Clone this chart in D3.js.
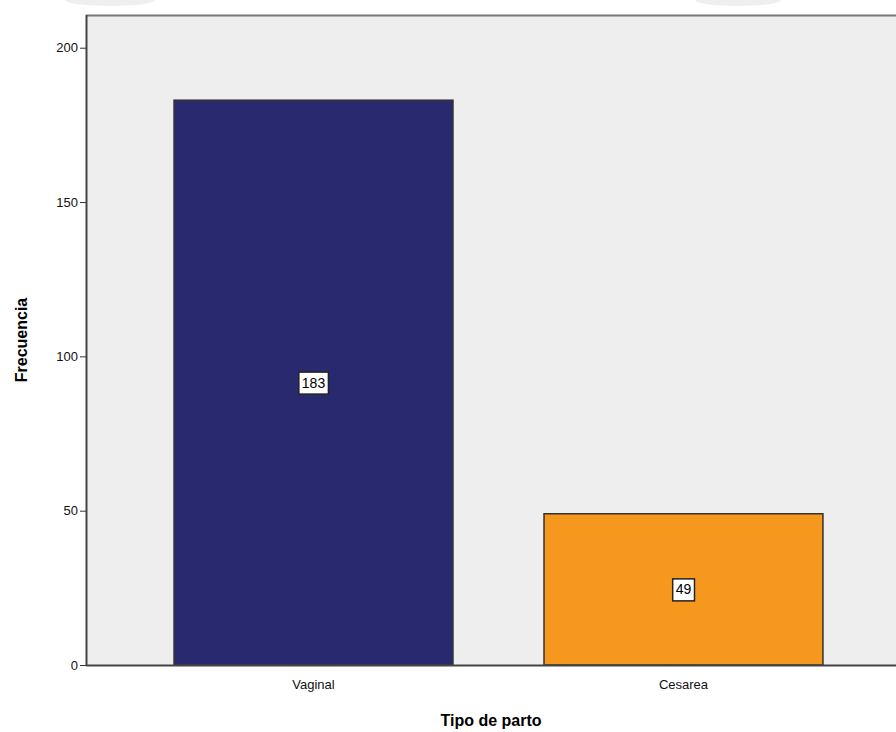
<!DOCTYPE html>
<html><head><meta charset="utf-8">
<script src="https://cdn.jsdelivr.net/npm/d3@7"></script>
<style>body{margin:0;background:#fff;}svg{display:block;}</style>
</head><body>
<svg id="c" width="896" height="732"></svg>
<script>
const categories = ["Vaginal", "Cesarea"];
const values = [183, 49];
const colors = ["#29296F", "#F7981E"];
const yTicks = [0, 50, 100, 150, 200];
const xTitle = "Tipo de parto";
const yTitle = "Frecuencia";

const svg = d3.select("#c");
const L = 86, R = 911, T = 15, B = 665;
const font = "Arial, 'Liberation Sans', sans-serif";

// faint decorations at top
svg.append("ellipse").attr("cx", 110).attr("cy", 0).attr("rx", 45).attr("ry", 6).attr("fill", "#efefef");
svg.append("ellipse").attr("cx", 738).attr("cy", 0).attr("rx", 43).attr("ry", 6).attr("fill", "#efefef");

const x = d3.scaleBand().domain(categories).range([L, R]).paddingInner(0.246).paddingOuter(0.238);
const y = d3.scaleLinear().domain([0, 210.6]).range([B, T]);

svg.append("rect").attr("x", L).attr("y", T).attr("width", R - L).attr("height", B - T).attr("fill", "#EEEEEE");
svg.append("line").attr("x1", L).attr("x2", 896).attr("y1", T + 0.5).attr("y2", T + 0.5).attr("stroke", "#777").attr("stroke-width", 2);

svg.selectAll("rect.bar").data(categories).enter().append("rect")
  .attr("class", "bar")
  .attr("x", d => x(d))
  .attr("y", (d, i) => y(values[i]))
  .attr("width", x.bandwidth())
  .attr("height", (d, i) => B - y(values[i]))
  .attr("fill", (d, i) => colors[i])
  .attr("stroke", "#333").attr("stroke-width", 1.5);

// value labels
categories.forEach((c, i) => {
  const cx = x(c) + x.bandwidth() / 2;
  const cy = (y(values[i]) + B) / 2;
  const g = svg.append("g");
  const t = g.append("text").attr("x", cx).attr("y", cy + 5).attr("text-anchor", "middle")
    .attr("font-family", font).attr("font-size", 14).attr("fill", "#000").text(values[i]);
  const bb = t.node().getBBox();
  g.insert("rect", "text").attr("x", bb.x - 3).attr("y", cy - 10.5).attr("width", bb.width + 6).attr("height", 22)
    .attr("fill", "#fff").attr("stroke", "#222").attr("stroke-width", 1.5);
});

// axes
const yAxis = svg.append("g").attr("transform", `translate(${L},0)`)
  .call(d3.axisLeft(y).tickValues(yTicks).tickSize(6).tickPadding(2));
const xAxis = svg.append("g").attr("transform", `translate(0,${B})`)
  .call(d3.axisBottom(x).tickSize(0).tickPadding(15));
[yAxis, xAxis].forEach(a => {
  a.selectAll("text").attr("font-family", font).attr("font-size", 13).attr("fill", "#111");
  a.selectAll("line").attr("stroke", "#333");
  a.select(".domain").attr("stroke", "#444").attr("stroke-width", 2);
});
xAxis.select(".domain").attr("d", `M${L},0.5H${R}`);
yAxis.select(".domain").attr("d", `M0.5,${T}V${B}`);

svg.append("text").attr("x", 491).attr("y", 726).attr("text-anchor", "middle")
  .attr("font-family", font).attr("font-size", 16).attr("font-weight", "bold").attr("fill", "#000").text(xTitle);
svg.append("text").attr("transform", `translate(27,340) rotate(-90)`).attr("text-anchor", "middle")
  .attr("font-family", font).attr("font-size", 16).attr("font-weight", "bold").attr("fill", "#000").text(yTitle);
</script>
</body></html>
